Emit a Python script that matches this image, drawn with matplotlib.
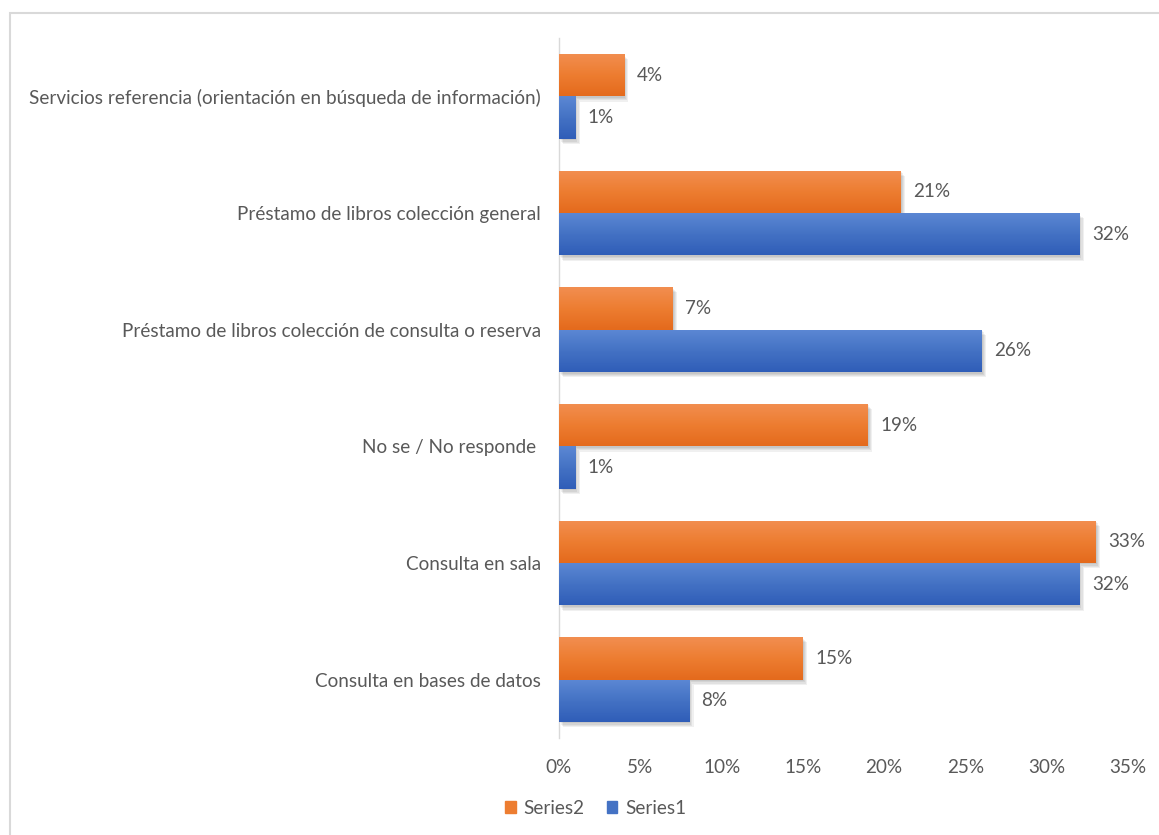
import numpy as np
import matplotlib
matplotlib.use("Agg")
import matplotlib.pyplot as plt
from matplotlib import patheffects
from matplotlib.colors import LinearSegmentedColormap
from matplotlib.patches import Rectangle
from matplotlib.ticker import FuncFormatter

plt.rcParams['font.family'] = ['Lato', 'DejaVu Sans']

categories = [
    "Consulta en bases de datos",
    "Consulta en sala",
    "No se / No responde ",
    "Préstamo de libros colección de consulta o reserva",
    "Préstamo de libros colección general",
    "Servicios referencia (orientación en búsqueda de información)",
]
series1 = [8, 32, 1, 26, 32, 1]
series2 = [15, 33, 19, 7, 21, 4]
x_ticks = [0, 5, 10, 15, 20, 25, 30, 35]

text_color = "#595959"
fs = 13.6
orange_top, orange_mid, orange_bot = "#F28E50", "#ED7D31", "#E46A1C"
blue_top, blue_mid, blue_bot = "#5C88D4", "#4472C4", "#2F5DB8"

fig = plt.figure(figsize=(11.59, 8.35), dpi=100)
ax = fig.add_axes([0.4823, 0.1162, 0.4910, 0.8383])

y = np.arange(len(categories))
h = 0.364

# soft drop shadow built from a few faint offset copies
shadow = [patheffects.SimplePatchShadow(offset=(dx, -dy), shadow_rgbFace="#000000", alpha=0.06)
          for dx, dy in ((0.8, 1.0), (1.6, 2.0), (2.4, 3.0), (3.2, 3.8))] + [patheffects.Normal()]

bars1 = ax.barh(y - h / 2, series1, height=h, color=blue_mid, label="Series1",
                path_effects=shadow, zorder=2)
bars2 = ax.barh(y + h / 2, series2, height=h, color=orange_mid, label="Series2",
                path_effects=shadow, zorder=2)

grad = np.linspace(0, 1, 64).reshape(-1, 1)
for bars, cols in ((bars1, (blue_bot, blue_mid, blue_top)),
                   (bars2, (orange_bot, orange_mid, orange_top))):
    cmap = LinearSegmentedColormap.from_list("g", cols)
    for b in bars:
        x0, y0 = b.get_x(), b.get_y()
        w, hh = b.get_width(), b.get_height()
        im = ax.imshow(grad, cmap=cmap, aspect="auto", origin="lower",
                       extent=(x0, x0 + w, y0, y0 + hh), zorder=3, interpolation="bilinear")
        im.set_clip_path(b)

for bars, vals in ((bars1, series1), (bars2, series2)):
    for b, v in zip(bars, vals):
        ax.annotate(f"{v}%", (v, b.get_y() + b.get_height() / 2),
                    xytext=(9, 0), textcoords="offset points",
                    ha="left", va="center", fontsize=fs, color=text_color, zorder=4)

ax.set_xlim(0, 35)
ax.set_ylim(-0.5, len(categories) - 0.5)
ax.set_xticks(x_ticks)
ax.xaxis.set_major_formatter(FuncFormatter(lambda v, p: f"{v:.0f}%"))
ax.set_yticks(y)
ax.set_yticklabels(categories)
ax.tick_params(axis="both", length=0, labelsize=fs, labelcolor=text_color)
ax.tick_params(axis="y", pad=13)
ax.tick_params(axis="x", pad=15)
for s in ("top", "right", "bottom"):
    ax.spines[s].set_visible(False)
ax.spines["left"].set_color("#D9D9D9")
ax.spines["left"].set_linewidth(1.0)

leg = fig.legend([Rectangle((0, 0), 1, 1, color=orange_mid), Rectangle((0, 0), 1, 1, color=blue_mid)],
                 ["Series2", "Series1"], loc="center", bbox_to_anchor=(0.514, 0.032),
                 ncol=2, frameon=False, fontsize=fs, handlelength=0.55, handleheight=0.55,
                 handletextpad=0.4, columnspacing=1.2)
for t in leg.get_texts():
    t.set_color(text_color)

# outer chart frame
fig.add_artist(Rectangle((10 / 1159, -0.1), 1.2, 1 - 13 / 835 + 0.1, transform=fig.transFigure,
                         fill=False, edgecolor="#D9D9D9", linewidth=1.5))

fig.savefig("out.png", dpi=100)
